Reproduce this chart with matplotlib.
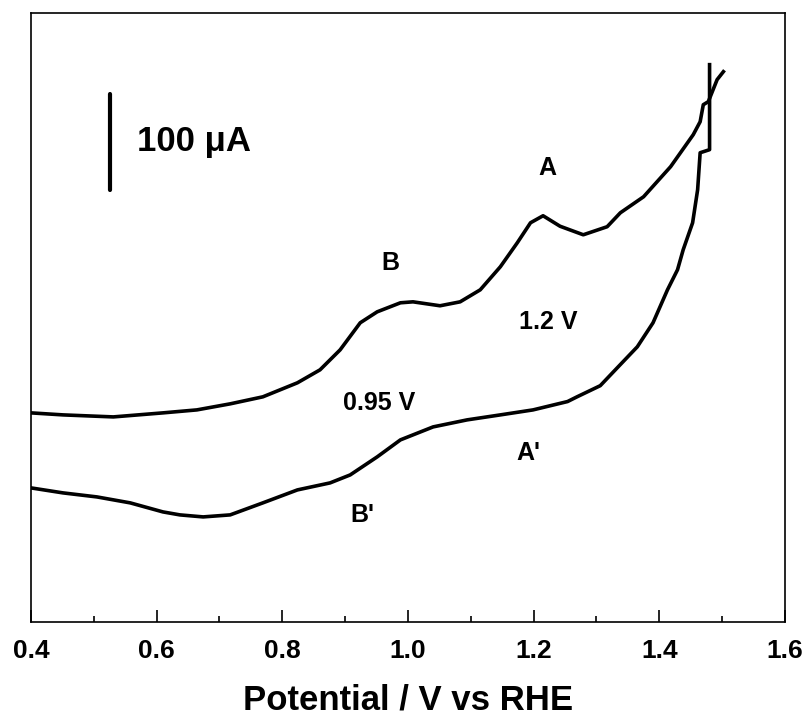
import matplotlib
matplotlib.use("Agg")
import matplotlib.pyplot as plt
from matplotlib.ticker import MultipleLocator

plt.rcParams['font.family'] = ['Liberation Sans', 'DejaVu Sans']
plt.rcParams['font.weight'] = 'bold'

# Anodic scan (upper branch), potential in V vs RHE, current in uA (arbitrary offset)
v_anod = [0.400, 0.451, 0.531, 0.610, 0.664, 0.717, 0.769, 0.824, 0.860, 0.892,
          0.924, 0.951, 0.988, 1.008, 1.051, 1.083, 1.115, 1.147, 1.174, 1.195,
          1.215, 1.242, 1.279, 1.317, 1.338, 1.375, 1.418, 1.454, 1.465, 1.470,
          1.478, 1.492, 1.502]
i_anod = [217.7, 215.6, 213.5, 217.7, 220.8, 227.1, 234.4, 249.0, 262.5, 283.3,
          311.5, 322.9, 332.3, 333.3, 329.2, 333.3, 345.8, 369.8, 394.8, 415.6,
          422.9, 412.0, 403.1, 411.5, 426.0, 442.7, 474.0, 507.3, 520.8, 538.5,
          541.7, 564.6, 572.9]

# Cathodic scan (lower branch)
v_cath = [1.480, 1.480, 1.465, 1.461, 1.453, 1.438, 1.429, 1.413, 1.390, 1.365,
          1.338, 1.306, 1.269, 1.254, 1.199, 1.147, 1.094, 1.040, 0.988, 0.951,
          0.908, 0.876, 0.824, 0.769, 0.717, 0.674, 0.637, 0.610, 0.558, 0.505,
          0.451, 0.400]
i_cath = [580.2, 491.7, 488.5, 450.0, 415.6, 387.5, 366.7, 345.8, 311.5, 286.5,
          268.0, 246.0, 234.4, 229.5, 220.8, 215.6, 210.4, 203.1, 189.6, 171.9,
          153.1, 144.8, 137.5, 124.0, 111.5, 109.4, 111.5, 114.6, 124.0, 130.2,
          134.4, 139.6]

peak_labels = ["A", "B", "1.2 V", "0.95 V", "A'", "B'"]
peak_x = [1.222, 0.972, 1.223, 0.954, 1.191, 0.927]
peak_y = [473, 374, 312, 228, 176, 111]

scale_x = 0.526
scale_lo, scale_hi = 450, 550

fig = plt.figure(figsize=(8.07, 7.17), dpi=100)
ax = fig.add_axes([0.0384, 0.1325, 0.9343, 0.8494])

ax.plot(v_anod, i_anod, color='black', lw=2.6, solid_joinstyle='round')
ax.plot(v_cath, i_cath, color='black', lw=2.6, solid_joinstyle='round')

# barre d'echelle
ax.plot([scale_x, scale_x], [scale_lo, scale_hi], color='black', lw=3,
        solid_capstyle='round')
ax.text(scale_x + 0.043, (scale_lo + scale_hi) / 2, "100 \u03bcA",
        fontsize=25, fontweight='bold', ha='left', va='center')

for lab, x, y in zip(peak_labels, peak_x, peak_y):
    ax.text(x, y, lab, fontsize=18, fontweight='bold', ha='center', va='center')

ax.set_xlim(0.4, 1.6)
ax.set_ylim(0, 634)
ax.xaxis.set_minor_locator(MultipleLocator(0.1))
ax.set_xticks([0.4, 0.6, 0.8, 1.0, 1.2, 1.4, 1.6])
ax.set_xticklabels(["0.4", "0.6", "0.8", "1.0", "1.2", "1.4", "1.6"])
ax.tick_params(axis='x', which='major', direction='in', length=8.5, width=1.2,
               labelsize=19, pad=12, top=False)
ax.tick_params(axis='x', which='minor', direction='in', length=4.5, width=1.2,
               top=False)
ax.set_yticks([])
for sp in ax.spines.values():
    sp.set_linewidth(1.2)

ax.set_xlabel("Potential / V vs RHE", fontsize=25, fontweight='bold', labelpad=15)

fig.savefig("out.png", dpi=100)
plt.close()
